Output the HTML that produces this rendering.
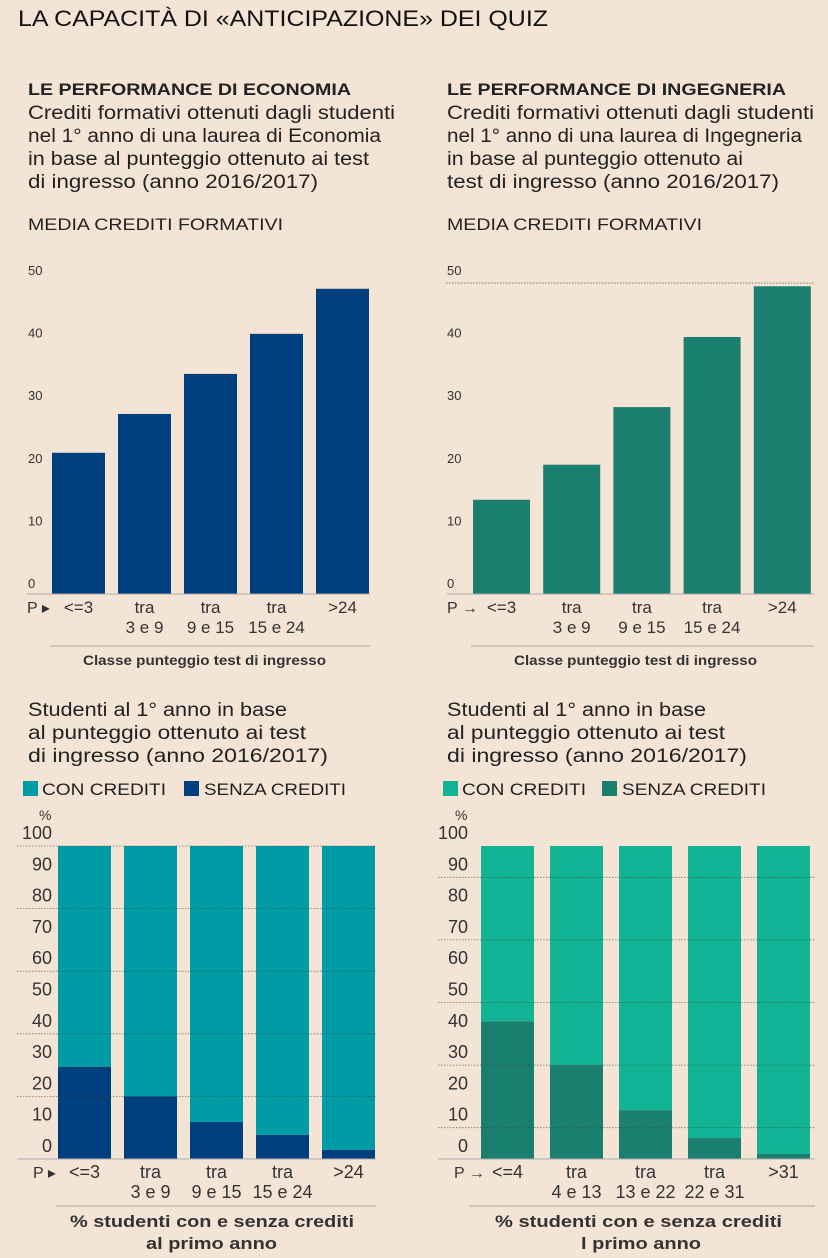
<!DOCTYPE html>
<html><head><meta charset="utf-8">
<style>
body{margin:0;background:#f4e4d6;}
svg{display:block;font-family:"Liberation Sans",sans-serif;}
</style></head>
<body>
<svg id="s" width="828" height="1258" viewBox="0 0 828 1258">
<rect width="828" height="1258" fill="#f4e4d6"/>
<text x="18" y="26" font-size="22" fill="#111" textLength="530" lengthAdjust="spacingAndGlyphs">LA CAPACITÀ DI «ANTICIPAZIONE» DEI QUIZ</text>
<g font-size="19" fill="#222" lengthAdjust="spacingAndGlyphs">
<text x="28" y="95" font-weight="bold" font-size="17" textLength="323" lengthAdjust="spacingAndGlyphs">LE PERFORMANCE DI ECONOMIA</text>
<text x="28" y="119" textLength="367" lengthAdjust="spacingAndGlyphs">Crediti formativi ottenuti dagli studenti</text>
<text x="28" y="142" textLength="353" lengthAdjust="spacingAndGlyphs">nel 1° anno di una laurea di Economia</text>
<text x="28" y="165" textLength="341" lengthAdjust="spacingAndGlyphs">in base al punteggio ottenuto ai test</text>
<text x="28" y="188" textLength="290" lengthAdjust="spacingAndGlyphs">di ingresso (anno 2016/2017)</text>
<text x="28" y="230" font-size="17" textLength="255" lengthAdjust="spacingAndGlyphs">MEDIA CREDITI FORMATIVI</text>
<text x="447" y="95" font-weight="bold" font-size="17" textLength="339" lengthAdjust="spacingAndGlyphs">LE PERFORMANCE DI INGEGNERIA</text>
<text x="447" y="119" textLength="367" lengthAdjust="spacingAndGlyphs">Crediti formativi ottenuti dagli studenti</text>
<text x="447" y="142" textLength="355" lengthAdjust="spacingAndGlyphs">nel 1° anno di una laurea di Ingegneria</text>
<text x="447" y="165" textLength="296" lengthAdjust="spacingAndGlyphs">in base al punteggio ottenuto ai</text>
<text x="447" y="188" textLength="332" lengthAdjust="spacingAndGlyphs">test di ingresso (anno 2016/2017)</text>
<text x="447" y="230" font-size="17" textLength="255" lengthAdjust="spacingAndGlyphs">MEDIA CREDITI FORMATIVI</text>
<text x="28" y="716" textLength="259" lengthAdjust="spacingAndGlyphs">Studenti al 1° anno in base</text>
<text x="28" y="739" textLength="278" lengthAdjust="spacingAndGlyphs">al punteggio ottenuto ai test</text>
<text x="28" y="762" textLength="300" lengthAdjust="spacingAndGlyphs">di ingresso (anno 2016/2017)</text>
<text x="447" y="716" textLength="259" lengthAdjust="spacingAndGlyphs">Studenti al 1° anno in base</text>
<text x="447" y="739" textLength="278" lengthAdjust="spacingAndGlyphs">al punteggio ottenuto ai test</text>
<text x="447" y="762" textLength="300" lengthAdjust="spacingAndGlyphs">di ingresso (anno 2016/2017)</text>
</g>
<g font-size="16.5" fill="#222">
<rect x="23" y="781" width="15" height="15" fill="#009ca6"/>
<text x="42" y="795" textLength="124" lengthAdjust="spacingAndGlyphs">CON CREDITI</text>
<rect x="184" y="781" width="15" height="15" fill="#003f7d"/>
<text x="204" y="795" textLength="142" lengthAdjust="spacingAndGlyphs">SENZA CREDITI</text>
<rect x="443" y="781" width="15" height="15" fill="#12b495"/>
<text x="462" y="795" textLength="124" lengthAdjust="spacingAndGlyphs">CON CREDITI</text>
<rect x="602" y="781" width="15" height="15" fill="#1b7f70"/>
<text x="622" y="795" textLength="144" lengthAdjust="spacingAndGlyphs">SENZA CREDITI</text>
</g>
</svg>
<script>
const ecoCats = [["<=3"],["tra","3 e 9"],["tra","9 e 15"],["tra","15 e 24"],[">24"]];
const ingCats = [["<=3"],["tra","3 e 9"],["tra","9 e 15"],["tra","15 e 24"],[">24"]];
const ecoCredits = [20.8, 27, 33.4, 39.8, 47];
const ingCredits = [13.3, 18.9, 28.1, 39.3, 47.4];
const topTicks = [0,10,20,30,40,50];
const ecoCats2 = [["<=3"],["tra","3 e 9"],["tra","9 e 15"],["tra","15 e 24"],[">24"]];
const ingCats2 = [["<=4"],["tra","4 e 13"],["tra","13 e 22"],["tra","22 e 31"],[">31"]];
const ecoSenza = [29.4, 20, 11.8, 7.7, 2.9];
const ingSenza = [44, 30, 15.6, 6.7, 1.6];
const pctTicks = [0,10,20,30,40,50,60,70,80,90,100];

const S = document.getElementById('s');
const NS = 'http://www.w3.org/2000/svg';
function mk(tag, at, parent){const e=document.createElementNS(NS,tag);for(const k in at)e.setAttribute(k,at[k]);(parent||S).appendChild(e);return e;}
function txt(x,y,t,at){const e=mk('text',Object.assign({x:x,y:y},at||{}));e.textContent=t;return e;}

function topChart(o){
  const y = v => o.zero - 6.26*v;
  topTicks.forEach(t=>{
    const e=txt(o.tickX, y(t)+5, String(t), {'font-size':13,fill:'#333'});
    
    
  });
  if(o.grid){const g=mk('line',{x1:o.gx1,x2:o.gx2,y1:283,y2:283,stroke:'#777','stroke-dasharray':'1.5,1.5','stroke-width':1});
    }
  o.vals.forEach((v,i)=>{
    const x=o.x0+i*o.step;
    const r=mk('rect',{x:x,y:y(v),width:o.bw,height:o.base-y(v),fill:o.color});
    
    
    o.cats[i].forEach((l,j)=>{const t=txt(x+o.bw/2,o.base+19+j*20,l,{'font-size':17,fill:'#333','text-anchor':'middle'});
      });
  });
  const a=mk('line',{x1:o.ax1,x2:o.ax2,y1:o.base,y2:o.base,stroke:'#aaa','stroke-width':1});
  
  const p=txt(o.ax1,o.base+19,o.parrow,{'font-size':16,fill:'#333'});
  
  const sl=mk('line',{x1:o.sx1,x2:o.ax2,y1:646,y2:646,stroke:'#c8b8a8','stroke-width':1.5});
  
  const c=txt(o.capX,665,'Classe punteggio test di ingresso',{'font-size':14,'font-weight':'bold',fill:'#333',textLength:243,lengthAdjust:'spacingAndGlyphs'});
  
}
topChart({id:'economia',vals:ecoCredits,cats:ecoCats,zero:583,base:594,x0:52,step:66,bw:53,color:'#003f7d',tickX:28,ax1:27,ax2:370,sx1:50,capX:83,parrow:'P  ▸',grid:false});
topChart({id:'ingegneria',vals:ingCredits,cats:ingCats,zero:583,base:594,x0:473,step:70.2,bw:57,color:'#1b7f70',tickX:447,ax1:447,ax2:814,sx1:471,capX:514,parrow:'P →',grid:true,gx1:446,gx2:814});

function botChart(o){
  const y = v => 1159 - 3.13*v;
  pctTicks.forEach(t=>{
    const e=txt(o.tickR, y(t)-7, String(t), {'font-size':18,fill:'#333','text-anchor':'end'});
    
    
  });
  const pc=txt(o.tickR-13,820,'%',{'font-size':14,fill:'#333'});
  
  o.vals.forEach((v,i)=>{
    const x=o.x0+i*o.step;
    const c=mk('rect',{x:x,y:y(100),width:o.bw,height:y(v)-y(100),fill:o.con});
    
    
    const r=mk('rect',{x:x,y:y(v),width:o.bw,height:1159-y(v),fill:o.senza});
    
    
    o.cats[i].forEach((l,j)=>{const t=txt(x+o.bw/2,1178+j*20,l,{'font-size':18,fill:'#333','text-anchor':'middle'});
      });
  });
  o.grid.forEach(g=>{const l=mk('line',{x1:o.ax1,x2:o.ax2,y1:y(g),y2:y(g),stroke:'#444','stroke-dasharray':'1.5,1.5','stroke-width':0.8,opacity:0.7});
    });
  const a=mk('line',{x1:o.ax1,x2:o.ax2,y1:1159,y2:1159,stroke:'#aaa','stroke-width':1});
  
  const p=txt(o.ax1+16,1178,o.parrow,{'font-size':16,fill:'#333'});
  
  const sl=mk('line',{x1:o.sx1,x2:o.ax2,y1:1206,y2:1206,stroke:'#c8b8a8','stroke-width':1.5});
  
  o.cap.forEach((s,j)=>{const c=txt(o.capX[j],1227+j*22,s,{'font-size':17,'font-weight':'bold',fill:'#333',textLength:o.capW[j],lengthAdjust:'spacingAndGlyphs'});
    });
}
botChart({id:'economia-pct',vals:ecoSenza,cats:ecoCats2,x0:58,step:66,bw:53,con:'#009ca6',senza:'#003f7d',tickR:52,ax1:17,ax2:376,sx1:56,parrow:'P  ▸',grid:[100,80,60,40,20],cap:['% studenti con e senza crediti','al primo anno'],capX:[70,146],capW:[284,131]});
botChart({id:'ingegneria-pct',vals:ingSenza,cats:ingCats2,x0:481,step:69,bw:53,con:'#12b495',senza:'#1b7f70',tickR:468,ax1:438,ax2:815,sx1:469,parrow:'P →',grid:[90,70,50,30,10],cap:['% studenti con e senza crediti','l primo anno'],capX:[495,581],capW:[287,120]});
</script>
</body></html>
